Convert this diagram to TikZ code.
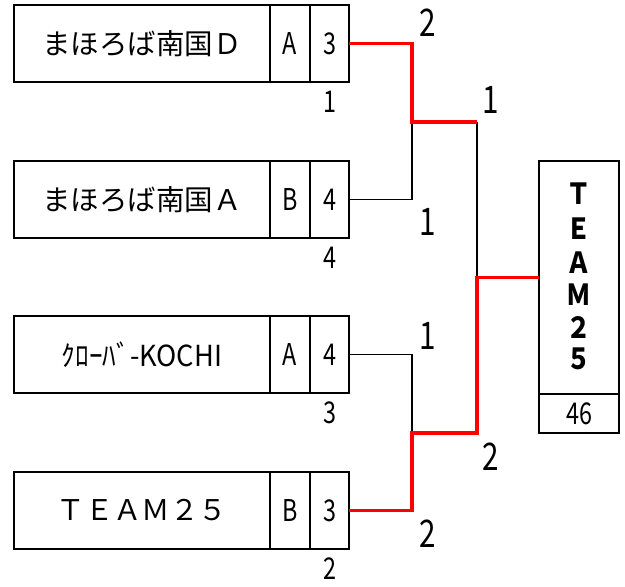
\documentclass[tikz,border=0pt]{standalone}
\usepackage{fontspec}
\usepackage{graphicx}
\usetikzlibrary{calc}
\newfontfamily\jp{Noto Sans CJK JP}
\newcommand{\nar}[1]{\scalebox{0.78}[1]{#1}}
\tikzset{
  cell/.style={draw=black, line width=2pt, inner sep=0pt, outer sep=0pt, anchor=north west},
  namefont/.style={font=\jp\fontsize{28.5}{28.5}\selectfont},
  cellfont/.style={font=\jp\fontsize{30}{30}\selectfont},
  bigfont/.style={font=\jp\fontsize{38}{38}\selectfont},
  wire/.style={draw=black, line width=1.8pt},
  win/.style={draw=red, line width=3.3pt},
}
\begin{document}
\begin{tikzpicture}[x=1pt,y=-1pt]
\useasboundingbox (0,0) rectangle (625,587);
% teams
\foreach \i/\t/\l/\s/\b in {1/5/A/3/1, 2/161/B/4/4, 3/316/A/4/3, 4/472/B/3/2}{
  \node[cell, minimum width=256pt, minimum height=77pt] (n\i) at (14,\t) {};
  \node[cell, minimum width=40pt, minimum height=77pt, cellfont] (l\i) at (270,\t) {\nar{\l}};
  \node[cell, minimum width=39pt, minimum height=77pt, cellfont] (s\i) at (310,\t) {\nar{\s}};
  \node[cellfont] (b\i) at ($(s\i.south)+(0,20)$) {\nar{\b}};
}
\node[namefont] (t1) at (n1.center) {まほろば南国Ｄ};
\node[namefont] (t2) at (n2.center) {まほろば南国Ａ};
\node[font=\jp\fontsize{29}{29}\selectfont] (t3) at (n3.center) {\scalebox{0.94}[1]{ｸﾛｰﾊﾞ-KOCHI}};
\node[namefont] (t4) at (n4.center) {ＴＥＡＭ２５};
% final
\node[cell, minimum width=80pt, minimum height=233pt] (fn) at (539,161) {};
\node[cell, minimum width=80pt, minimum height=39pt, cellfont] (fs) at (539,394) {\nar{46}};
\foreach \c/\y in {Ｔ/194, Ｅ/229, Ａ/263, Ｍ/295, ２/327, ５/359}{
  \node[font=\jp\bfseries\fontsize{29}{29}\selectfont] at (579,\y) {\scalebox{0.85}[1]{\c}};
}
% junctions
\coordinate (a1) at (412,122);
\coordinate (a2) at (412,433);
\coordinate (c1) at (477,122);
\coordinate (c2) at (477,433);
\coordinate (cm) at (477,277.5);
% black wires
\draw[wire] (s2.east) -| (a1);
\draw[wire] (s3.east) -| (a2);
\draw[wire] (c1) -- (cm);
% red wires
\draw[win] (s1.east) -| (a1) -- (c1);
\draw[win] (s4.east) -| (a2) -- (c2) -- (cm) -- (fn.west);
% labels
\node[bigfont] (g1) at (428,23) {\nar{2}};
\node[bigfont] (g2) at (428,222) {\nar{1}};
\node[bigfont] (g3) at (428,336) {\nar{1}};
\node[bigfont] (g4) at (428,534) {\nar{2}};
\node[bigfont] (g5) at (491,100) {\nar{1}};
\node[bigfont] (g6) at (491,457) {\nar{2}};
\end{tikzpicture}
\end{document}
